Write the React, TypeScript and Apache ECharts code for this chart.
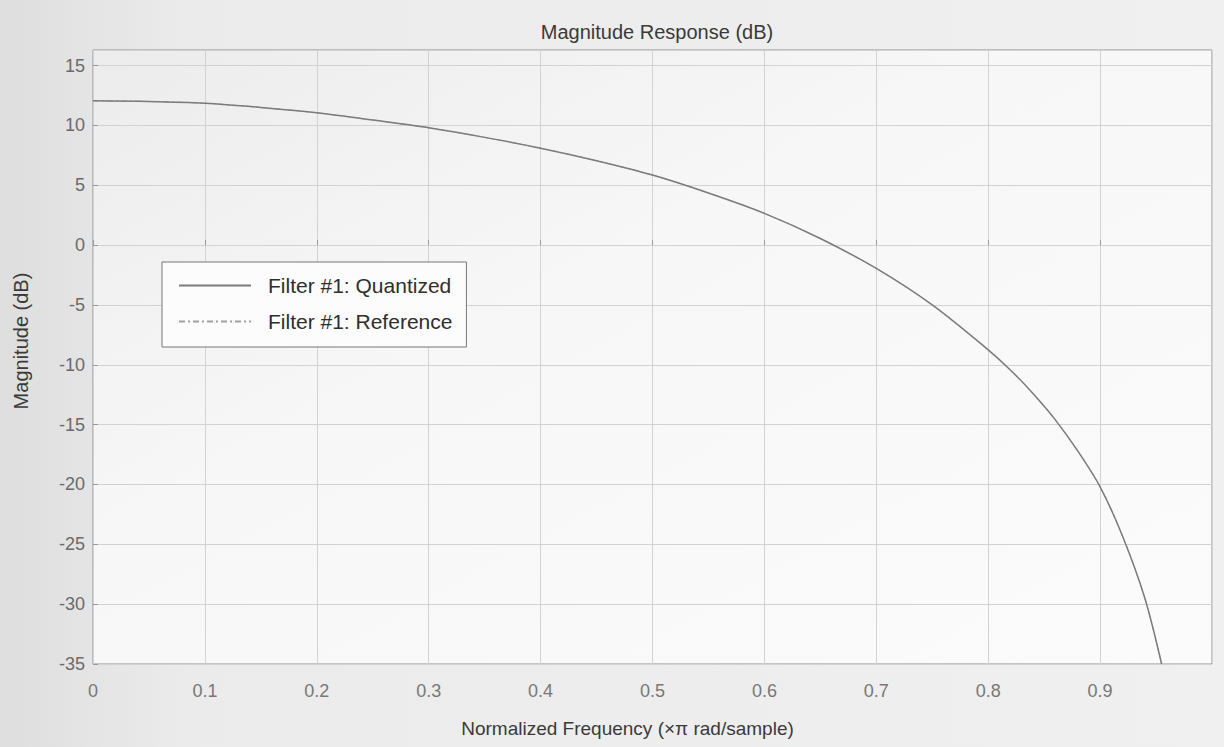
import React, { useEffect, useRef } from "react";
import * as echarts from "echarts";

const freq = [0, 0.05, 0.1, 0.15, 0.2, 0.25, 0.3, 0.35, 0.4, 0.45, 0.5, 0.55, 0.6, 0.65, 0.7, 0.75, 0.8, 0.82, 0.84, 0.86, 0.88, 0.9, 0.92, 0.94, 0.955];
const quantized = [12.05, 12.0, 11.85, 11.5, 11.05, 10.45, 9.8, 9.0, 8.1, 7.05, 5.85, 4.35, 2.65, 0.55, -1.95, -5.0, -8.75, -10.45, -12.4, -14.6, -17.2, -20.2, -24.3, -29.5, -35];
const reference = [12.05, 12.0, 11.85, 11.5, 11.05, 10.45, 9.8, 9.0, 8.1, 7.05, 5.85, 4.35, 2.65, 0.55, -1.95, -5.0, -8.75, -10.45, -12.4, -14.6, -17.2, -20.2, -24.3, -29.5, -35];
const seriesNames = ["Filter #1: Quantized", "Filter #1: Reference"];

const FONT = "'Liberation Sans', Arial, sans-serif";

export default function App() {
  const ref = useRef<HTMLDivElement>(null);
  useEffect(() => {
    if (!ref.current) return;
    const chart = echarts.init(ref.current, null, { renderer: "svg" });
    const q = freq.map((f, i) => [f, quantized[i]]);
    const r = freq.map((f, i) => [f, reference[i]]);
    chart.setOption({
      animation: false,
      backgroundColor: {
        type: "linear", x: 0, y: 0, x2: 1, y2: 0,
        colorStops: [
          { offset: 0, color: "#dedede" },
          { offset: 0.15, color: "#ebebeb" },
          { offset: 1, color: "#f0f0f0" },
        ],
      },
      title: {
        text: "Magnitude Response (dB)",
        left: 652,
        top: 17,
        textAlign: "center",
        textStyle: { fontFamily: FONT, fontSize: 20, fontWeight: "normal", color: "#3a3a3a" },
      },
      grid: { left: 93, right: 12, top: 50, bottom: 83, show: true, backgroundColor: {
        type: "linear", x: 0, y: 0, x2: 1, y2: 1,
        colorStops: [
          { offset: 0, color: "#ececec" },
          { offset: 0.4, color: "#f7f7f7" },
          { offset: 1, color: "#fbfbfb" },
        ],
      }, borderColor: "#8f8f8f", borderWidth: 1 },
      legend: {
        orient: "vertical",
        left: 162,
        top: 262,
        padding: [13, 14, 15, 16],
        itemGap: 15,
        itemWidth: 72,
        itemHeight: 14,
        backgroundColor: "#fcfcfc",
        borderColor: "#777",
        borderWidth: 1,
        itemStyle: { opacity: 0 },
        textStyle: { fontFamily: FONT, fontSize: 21, color: "#2e2e2e", padding: [0, 0, 0, 12] },
        data: seriesNames,
      },
      xAxis: {
        type: "value",
        min: 0,
        max: 1,
        interval: 0.1,
        name: "Normalized Frequency (\u00d7\u03c0 rad/sample)",
        nameLocation: "middle",
        nameGap: 55,
        nameTextStyle: { fontFamily: FONT, fontSize: 19, color: "#3a3a3a", padding: [0, 50, 0, 0] },
        axisLine: { show: false },
        axisTick: { inside: true, length: 5, lineStyle: { color: "#999" } },
        axisLabel: {
          fontFamily: FONT, fontSize: 18, color: "#777", margin: 18,
          showMaxLabel: false,
          formatter: (v: number) => (Math.round(v * 10) / 10).toString(),
        },
        splitLine: { show: true, lineStyle: { color: "#d2d2d2", width: 1 } },
      },
      yAxis: {
        type: "value",
        min: -35,
        max: 16.3,
        interval: 5,
        name: "Magnitude (dB)",
        nameLocation: "middle",
        nameGap: 62,
        nameRotate: 90,
        nameTextStyle: { fontFamily: FONT, fontSize: 20, color: "#3a3a3a", padding: [0, 0, 0, 32] },
        axisLine: { show: false },
        axisTick: { inside: true, length: 5, lineStyle: { color: "#999" } },
        axisLabel: {
          fontFamily: FONT, fontSize: 18, color: "#6a6a6a", margin: 8,
          showMaxLabel: false,
        },
        splitLine: { show: true, lineStyle: { color: "#d2d2d2", width: 1 } },
      },
      series: [
        {
          name: seriesNames[0],
          type: "line",
          data: q,
          smooth: 0.3,
          showSymbol: false,
          symbol: "none",
          lineStyle: { color: "#7b7b7b", width: 1.5 },
          itemStyle: { color: "#7b7b7b" },
          z: 3,
        },
        {
          name: seriesNames[1],
          type: "line",
          data: r,
          smooth: 0.3,
          showSymbol: false,
          symbol: "none",
          lineStyle: { color: "#a0a0a0", width: 1, type: [6, 3, 2, 3] },
          itemStyle: { color: "#a0a0a0" },
          z: 2,
        },
      ],
    });
    return () => chart.dispose();
  }, []);
  return <div ref={ref} style={{ position: "fixed", left: 0, top: 0, width: 1224, height: 747 }} />;
}
